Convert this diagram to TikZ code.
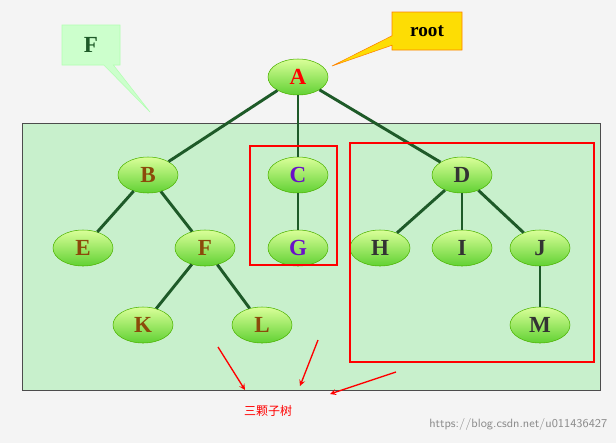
\documentclass[tikz,border=0pt]{standalone}
\usepackage{fontspec}
\setmainfont{Liberation Serif}
\newfontfamily\cjk{Noto Sans CJK SC}
\usetikzlibrary{shapes.geometric,shapes.callouts,positioning}
\definecolor{bgray}{HTML}{F4F4F4}
\definecolor{boxgreen}{HTML}{C8F0CC}
\definecolor{edgegreen}{HTML}{1E5A28}
\definecolor{lbrown}{HTML}{8B4A0A}
\definecolor{lpurple}{HTML}{6A10C8}
\tikzset{
  tnode/.style={ellipse,minimum width=60pt*0.75,minimum height=36pt*0.75,inner sep=0pt,
    top color=green!15!lime!40,bottom color=green!55!olive!80,draw=green!40!olive,thin,
    font=\bfseries\LARGE},
  tedge/.style={draw=edgegreen,line width=2.2pt},
  redbox/.style={draw=red,line width=1.4pt},
  redarrow/.style={->,draw=red,line width=1pt,>=stealth}
}
\begin{document}
\begin{tikzpicture}[x=0.75pt,y=-0.75pt]
        \useasboundingbox (0,0) rectangle (616,443);
        \fill[bgray] (0,0) rectangle (616,443);
        \draw[fill=boxgreen,draw=black!70] (22,123) rectangle (600,390);
        % callouts
        \node[rectangle callout,fill=green!20,draw=green!30,minimum width=58pt*0.75,minimum height=40pt*0.75,
              callout absolute pointer={(150,112)},font=\bfseries\LARGE,text=edgegreen] (cf) at (91,45) {F};
        \node[rectangle callout,fill=yellow!80!orange,draw=orange,minimum width=70pt*0.75,minimum height=38pt*0.75,
              callout absolute pointer={(332,66)},font=\bfseries\Large] (croot) at (427,31) {root};
        % nodes
        \node[tnode,text=red] (A) at (298,77) {A};
        \node[tnode,text=lbrown] (B) at (148,175) {B};
        \node[tnode,text=lpurple] (C) at (298,175) {C};
        \node[tnode,text=black!80] (D) at (462,175) {D};
        \node[tnode,text=lbrown] (E) at (83,248) {E};
        \node[tnode,text=lbrown] (F) at (205,248) {F};
        \node[tnode,text=lpurple] (G) at (298,248) {G};
        \node[tnode,text=black!80] (H) at (380,248) {H};
        \node[tnode,text=black!80] (I) at (462,248) {I};
        \node[tnode,text=black!80] (J) at (540,248) {J};
        \node[tnode,text=lbrown] (K) at (143,325) {K};
        \node[tnode,text=lbrown] (L) at (262,325) {L};
        \node[tnode,text=black!80] (M) at (540,325) {M};
        \path[tedge]
            (A) edge (B) edge (C) edge (D)
            (B) edge (E) edge (F)
            (F) edge (K) edge (L)
            (C) edge (G)
            (D) edge (H) edge (I) edge (J)
            (J) edge (M);
        % subtrees
        \draw[redbox] (250,146) rectangle (337,265);
        \draw[redbox] (350,143) rectangle (594,362);
        \node[text=red,font=\cjk\small] (sub) at (268,411) {三颗子树};
        \coordinate (r1) at (218,347);
        \coordinate (r2) at (318,340);
        \coordinate (r3) at (396,372);
        \draw[redarrow] (r1) -- (245,390);
        \draw[redarrow] (r2) -- (300,386);
        \draw[redarrow] (r3) -- (330,394);
        \node[text=black!45,font=\sffamily\small,anchor=east] (wm) at (612,424) {https://blog.csdn.net/u011436427};
\end{tikzpicture}
\end{document}
